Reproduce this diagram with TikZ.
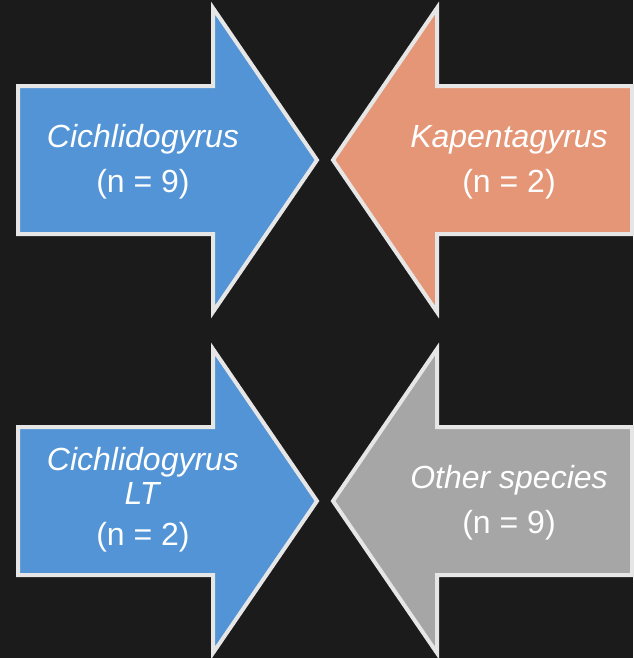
\documentclass[tikz,border=0pt]{standalone}
\usepackage{fontspec}
\setmainfont{Liberation Sans}
\definecolor{bgdark}{HTML}{1B1B1B}
\definecolor{edgegrey}{HTML}{E6E6E6}
\definecolor{genusblue}{HTML}{5294D5}
\definecolor{genusorange}{HTML}{E59676}
\definecolor{othergrey}{HTML}{A6A6A6}

\begin{document}
\begin{tikzpicture}[x=0.75pt, y=-0.75pt,
    arrowshape/.style={draw=edgegrey, line width=3pt, line join=miter},
    taxon/.style={text=white, align=center, font=\fontsize{24}{25.5}\selectfont}]
  \useasboundingbox (0,0) rectangle (633,658);
  \fill[bgdark] (0,0) rectangle (633,658);
  \filldraw[arrowshape, fill=genusblue] (18,86) -- (213,86) -- (213,8) -- (317,160) -- (213,312) -- (213,234) -- (18,234) -- cycle;
  \node[taxon] (cichlidogyrus) at (143,162) {\textit{Cichlidogyrus}\\[8pt](n = 9)};
  \filldraw[arrowshape, fill=genusorange] (632,86) -- (437,86) -- (437,8) -- (333,160) -- (437,312) -- (437,234) -- (632,234) -- cycle;
  \node[taxon] (kapentagyrus) at (509,162) {\textit{Kapentagyrus}\\[8pt](n = 2)};
  \filldraw[arrowshape, fill=genusblue] (18,427) -- (213,427) -- (213,349) -- (317,501) -- (213,653) -- (213,575) -- (18,575) -- cycle;
  \node[taxon] (cichlidogyruslt) at (143,500) {\textit{Cichlidogyrus}\\\textit{LT}\\[5pt](n = 2)};
  \filldraw[arrowshape, fill=othergrey] (632,427) -- (437,427) -- (437,349) -- (333,501) -- (437,653) -- (437,575) -- (632,575) -- cycle;
  \node[taxon] (otherspecies) at (509,503) {\textit{Other species}\\[8pt](n = 9)};
\end{tikzpicture}
\end{document}
